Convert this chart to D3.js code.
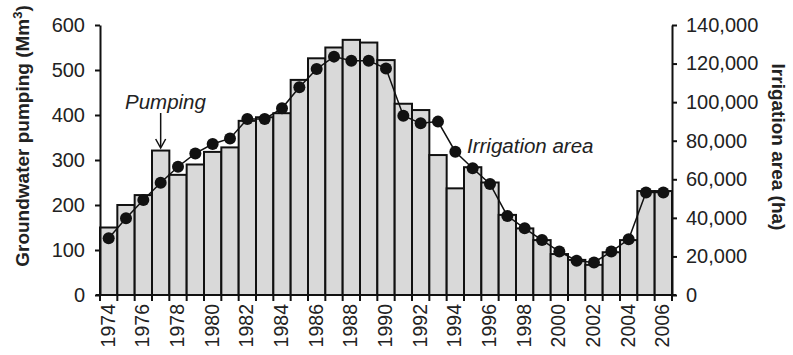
<!DOCTYPE html>
<html>
<head>
<meta charset="utf-8">
<script src="https://cdn.jsdelivr.net/npm/d3@7"></script>
<style>
  html, body { margin: 0; padding: 0; background: #fff; }
  svg { display: block; font-family: "Liberation Sans", Arial, sans-serif; }
</style>
</head>
<body>
<svg id="chart" width="793" height="355"></svg>
<script>
// Years 1974–2006
const years = d3.range(1974, 2007);
// Groundwater pumping (Mm³) per year
const pumping = [150, 200, 222, 321, 267, 290, 318, 328, 387, 395, 404, 478, 526,
                 550, 567, 561, 522, 425, 411, 311, 237, 284, 250, 178, 148, 122,
                 91, 78, 67, 95, 122, 231, 231];
// Irrigation area (ha) per year
const irrigation = [29400, 39800, 49300, 58200, 66500, 73400, 78300, 81200, 91300,
                    91300, 96800, 107700, 117200, 123600, 121500, 121500, 117400,
                    93000, 89000, 89900, 74300, 65700, 57600, 41000, 34600, 28500,
                    22500, 17800, 16900, 22500, 28900, 53200, 53200];
const leftTicks = [0, 100, 200, 300, 400, 500, 600];
const rightTicks = [0, 20000, 40000, 60000, 80000, 100000, 120000, 140000];
const yearLabels = years.filter(y => y % 2 === 0);

const svg = d3.select("#chart");
const x0 = 100, x1 = 672, yTop = 25, yBot = 295;

const x = d3.scaleBand().domain(years).range([x0, x1]).padding(0);
const yL = d3.scaleLinear().domain([0, 600]).range([yBot, yTop]);
const yR = d3.scaleLinear().domain([0, 140000]).range([yBot, yTop]);

// Bars: groundwater pumping
svg.append("g").selectAll("rect")
  .data(years)
  .join("rect")
  .attr("x", d => x(d))
  .attr("y", (d, i) => yL(pumping[i]))
  .attr("width", x.bandwidth())
  .attr("height", (d, i) => yBot - yL(pumping[i]))
  .attr("fill", "#d9d9d9")
  .attr("stroke", "#111")
  .attr("stroke-width", 2);

// Line + dots: irrigation area
const line = d3.line()
  .x((d, i) => x(years[i]) + x.bandwidth() / 2)
  .y(d => yR(d));
svg.append("path")
  .datum(irrigation)
  .attr("d", line)
  .attr("fill", "none")
  .attr("stroke", "#111")
  .attr("stroke-width", 1.5);
svg.append("g").selectAll("circle")
  .data(irrigation)
  .join("circle")
  .attr("cx", (d, i) => x(years[i]) + x.bandwidth() / 2)
  .attr("cy", d => yR(d))
  .attr("r", 6)
  .attr("fill", "#111");

// Left axis
const axL = svg.append("g")
  .attr("transform", `translate(${x0},0)`)
  .call(d3.axisLeft(yL).tickValues(leftTicks).tickSize(5).tickSizeOuter(0).tickPadding(10));
// Right axis
const fmt = d3.format(",");
const axR = svg.append("g")
  .attr("transform", `translate(${x1},0)`)
  .call(d3.axisRight(yR).tickValues(rightTicks).tickFormat(fmt).tickSize(5).tickSizeOuter(0).tickPadding(9));
[axL, axR].forEach(g => {
  g.select(".domain").attr("stroke", "#111").attr("stroke-width", 2);
  g.selectAll(".tick line").attr("stroke", "#111").attr("stroke-width", 2);
  g.selectAll(".tick text").attr("fill", "#222").style("font-size", "20px")
    .style("font-family", "'Liberation Sans', Arial, sans-serif");
});

// Bottom axis: ticks at bar boundaries, labels on even years
const axB = svg.append("g");
axB.append("line")
  .attr("x1", x0 - 4).attr("x2", x1 + 4)
  .attr("y1", yBot).attr("y2", yBot)
  .attr("stroke", "#111").attr("stroke-width", 2);
const bounds = years.map(d => x(d)).concat([x1]);
axB.selectAll("line.tk")
  .data(bounds)
  .join("line")
  .attr("class", "tk")
  .attr("x1", d => d).attr("x2", d => d)
  .attr("y1", yBot).attr("y2", yBot + 6)
  .attr("stroke", "#111").attr("stroke-width", 2);
axB.selectAll("text")
  .data(yearLabels)
  .join("text")
  .attr("transform", d => `translate(${x(d) + x.bandwidth() / 2 + 6},${yBot + 9}) rotate(-90)`)
  .attr("text-anchor", "end")
  .attr("fill", "#222")
  .style("font-size", "19.5px")
  .text(d => d);

// Axis titles
svg.append("text")
  .attr("transform", `translate(29,136) rotate(-90)`)
  .attr("text-anchor", "middle")
  .style("font-size", "19px").style("font-weight", "bold")
  .attr("fill", "#222")
  .text("Groundwater pumping (Mm")
  .append("tspan").attr("dy", -7).style("font-size", "13px").text("3")
  .select(function () { return this.parentNode; })
  .append("tspan").attr("dy", 7).text(")");

svg.append("text")
  .attr("transform", `translate(772,147) rotate(90)`)
  .attr("text-anchor", "middle")
  .style("font-size", "19px").style("font-weight", "bold")
  .attr("fill", "#222")
  .text("Irrigation area (ha)");

// Annotations
svg.append("text")
  .attr("x", 125).attr("y", 109)
  .style("font-size", "20.5px").style("font-style", "italic")
  .attr("fill", "#222")
  .text("Pumping");
svg.append("line")
  .attr("x1", x(1977) + x.bandwidth() / 2).attr("x2", x(1977) + x.bandwidth() / 2)
  .attr("y1", 113).attr("y2", 147)
  .attr("stroke", "#111").attr("stroke-width", 1.5);
svg.append("path")
  .attr("d", d3.line()([
    [x(1977) + x.bandwidth() / 2 - 5, 139],
    [x(1977) + x.bandwidth() / 2, 148],
    [x(1977) + x.bandwidth() / 2 + 5, 139]
  ]))
  .attr("fill", "none").attr("stroke", "#111").attr("stroke-width", 1.5);

svg.append("text")
  .attr("x", 467).attr("y", 153)
  .style("font-size", "20.5px").style("font-style", "italic")
  .attr("fill", "#222")
  .text("Irrigation area");
</script>
</body>
</html>
